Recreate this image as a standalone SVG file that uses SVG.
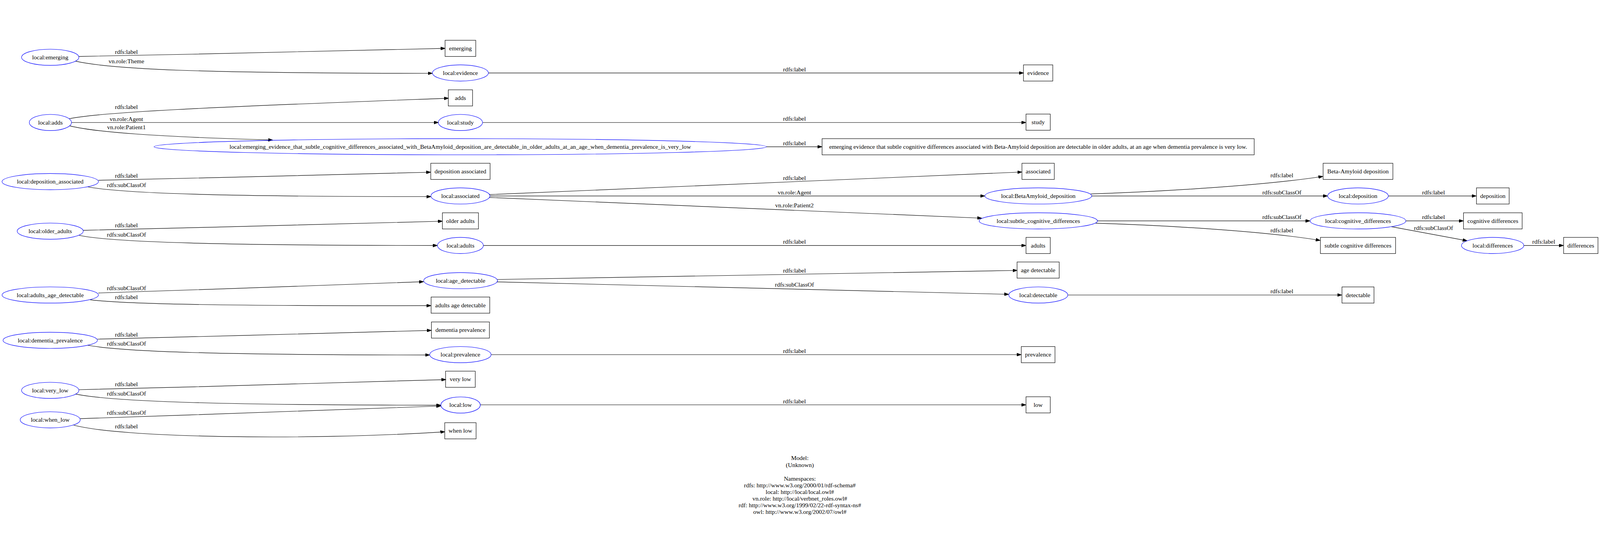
<svg xmlns="http://www.w3.org/2000/svg" width="4747" height="1429" viewBox="0 0 4747 1429">
<style>
svg{max-width:100vw;max-height:100vh}
text{font-family:"Liberation Serif","Times New Roman",serif;font-size:18px;fill:#000;text-anchor:middle}
.n ellipse{fill:none;stroke:#0000ff;stroke-width:1.33}
.n rect{fill:none;stroke:#000;stroke-width:1.33}
.e path{fill:none;stroke:#000;stroke-width:1.33;marker-end:url(#arr)}
</style>
<defs>
<marker id="arr" viewBox="0 0 13.33 9.33" refX="13.33" refY="4.67" markerWidth="13.33" markerHeight="9.33" markerUnits="userSpaceOnUse" orient="auto">
<path d="M0,0 L13.33,4.67 L0,9.33 z" fill="#000" stroke="#000" stroke-width="1"/>
</marker>
</defs>
<rect x="0" y="0" width="4747" height="1429" fill="#fff"/>

<g id="edges" class="e">
<path d="M234,54 C600,47 1000,38 1321,30"/>
<text x="375" y="46">rdfs:label</text>
<path d="M224,68 C330,92 600,104 1283,104"/>
<text x="375" y="74">vn.role:Theme</text>
<path d="M205,239 C290,220 600,205 1331,178"/>
<text x="375" y="210">rdfs:label</text>
<path d="M212,250 L1301,250"/>
<text x="375" y="246">vn.role:Agent</text>
<path d="M207,260 C280,278 450,292 809,302"/>
<text x="375" y="270">vn.role:Patient1</text>
<path d="M292,421.5 C600,415 1000,405 1278,397.5"/>
<text x="375" y="414">rdfs:label</text>
<path d="M260,441 C360,460 650,470 1279,470"/>
<text x="375" y="441">rdfs:subClassOf</text>
<path d="M247,570 C600,562 1000,551 1313,543"/>
<text x="375" y="561">rdfs:label</text>
<path d="M235,585 C330,605 650,615 1298,615"/>
<text x="375" y="589">rdfs:subClassOf</text>
<path d="M292,756 C600,747 1000,731 1257,722.5"/>
<text x="375" y="748">rdfs:subClassOf</text>
<path d="M267,776 C370,790 700,795 1279,793.5"/>
<text x="375" y="774">rdfs:label</text>
<path d="M289,893 C600,886 1000,874 1280,867"/>
<text x="375" y="886">rdfs:label</text>
<path d="M260,911 C360,930 650,940 1275,940"/>
<text x="375" y="912">rdfs:subClassOf</text>
<path d="M234,1043 C600,1035 1000,1022 1323,1013"/>
<text x="375" y="1033">rdfs:label</text>
<path d="M224,1056 C330,1078 650,1089 1308,1089"/>
<text x="375" y="1061">rdfs:subClassOf</text>
<path d="M238,1129 C600,1118 1000,1100 1308,1091.5"/>
<text x="375" y="1117">rdfs:subClassOf</text>
<path d="M218,1148 C350,1185 900,1195 1320,1168"/>
<text x="375" y="1158">rdfs:label</text>

<path d="M1449,103 L3037,103"/>
<text x="2357" y="98">rdfs:label</text>
<path d="M1432,250 L3044,250"/>
<text x="2357" y="244">rdfs:label</text>
<path d="M2274,322 L2439,322"/>
<text x="2357" y="317">rdfs:label</text>
<path d="M1451,464 L3032,397"/>
<text x="2357" y="421">rdfs:label</text>
<path d="M1454,468 L2922,468"/>
<text x="2357" y="464">vn.role:Agent</text>
<path d="M1451,472.5 L2913,534"/>
<text x="2357" y="502">vn.role:Patient2</text>
<path d="M1434,615 L3044,615"/>
<text x="2357" y="610">rdfs:label</text>
<path d="M1476,716 L3018,689"/>
<text x="2357" y="695">rdfs:label</text>
<path d="M1474,723 L2993,760"/>
<text x="2357" y="737">rdfs:subClassOf</text>
<path d="M1457,939 L3030,939"/>
<text x="2357" y="934">rdfs:label</text>
<path d="M1425,1088 L3044,1088"/>
<text x="2357" y="1084">rdfs:label</text>

<path d="M3236,462 C3450,455 3750,437 3925,410"/>
<text x="3803" y="413">rdfs:label</text>
<path d="M3239,468 L3939,468"/>
<text x="3803" y="464">rdfs:subClassOf</text>
<path d="M3256,542 L3887,542"/>
<text x="3803" y="537">rdfs:subClassOf</text>
<path d="M3251,549 C3450,555 3750,572 3917,600"/>
<text x="3803" y="576">rdfs:label</text>
<path d="M3168,762 L3981,762"/>
<text x="3803" y="757">rdfs:label</text>
<path d="M4119,468 L4380,468"/>
<text x="4253" y="464">rdfs:label</text>
<path d="M4171,542 L4342,542"/>
<text x="4253" y="537">rdfs:label</text>
<path d="M4127,559 L4353,601"/>
<text x="4253" y="569">rdfs:subClassOf</text>
<path d="M4521,615 L4639,615"/>
<text x="4580" y="610">rdfs:label</text>
</g>

<g id="node-local-emerging" class="n"><ellipse cx="149" cy="56.5" rx="85" ry="24"/><text x="149" y="62.5">local:emerging</text></g>
<g id="node-local-adds" class="n"><ellipse cx="149.5" cy="250" rx="62.5" ry="24"/><text x="149.5" y="256">local:adds</text></g>
<g id="node-local-deposition-associated" class="n"><ellipse cx="149" cy="425.5" rx="143" ry="24"/><text x="149" y="431.5">local:deposition_associated</text></g>
<g id="node-local-older-adults" class="n"><ellipse cx="149" cy="572.5" rx="98" ry="24"/><text x="149" y="578.5">local:older_adults</text></g>
<g id="node-local-adults-age-detectable" class="n"><ellipse cx="149" cy="762" rx="143" ry="24"/><text x="149" y="768">local:adults_age_detectable</text></g>
<g id="node-local-dementia-prevalence" class="n"><ellipse cx="149" cy="896.5" rx="140" ry="24"/><text x="149" y="902.5">local:dementia_prevalence</text></g>
<g id="node-local-very-low" class="n"><ellipse cx="149" cy="1045" rx="85" ry="24"/><text x="149" y="1051">local:very_low</text></g>
<g id="node-local-when-low" class="n"><ellipse cx="149" cy="1132.5" rx="89" ry="24"/><text x="149" y="1138.5">local:when_low</text></g>

<g id="node-emerging" class="n"><rect x="1320.5" y="6" width="91" height="48"/><text x="1366" y="36">emerging</text></g>
<g id="node-local-evidence" class="n"><ellipse cx="1366" cy="103" rx="83" ry="24"/><text x="1366" y="109">local:evidence</text></g>
<g id="node-adds" class="n"><rect x="1330" y="153" width="72" height="48"/><text x="1366" y="183">adds</text></g>
<g id="node-local-study" class="n"><ellipse cx="1366" cy="250" rx="65.5" ry="24"/><text x="1366" y="256">local:study</text></g>
<g id="node-local-long" class="n"><ellipse cx="1365.5" cy="322" rx="908.5" ry="24"/><text x="1365.5" y="328">local:emerging_evidence_that_subtle_cognitive_differences_associated_with_BetaAmyloid_deposition_are_detectable_in_older_adults_at_an_age_when_dementia_prevalence_is_very_low</text></g>
<g id="node-deposition-associated" class="n"><rect x="1278" y="371" width="176" height="48"/><text x="1366" y="401">deposition associated</text></g>
<g id="node-local-associated" class="n"><ellipse cx="1366" cy="468" rx="87.5" ry="24"/><text x="1366" y="474">local:associated</text></g>
<g id="node-older-adults" class="n"><rect x="1312.5" y="518" width="107" height="48"/><text x="1366" y="548">older adults</text></g>
<g id="node-local-adults" class="n"><ellipse cx="1366" cy="615" rx="68" ry="24"/><text x="1366" y="621">local:adults</text></g>
<g id="node-local-age-detectable" class="n"><ellipse cx="1366.5" cy="719.5" rx="109.5" ry="24"/><text x="1366.5" y="725.5">local:age_detectable</text></g>
<g id="node-adults-age-detectable" class="n"><rect x="1279" y="768" width="174" height="48"/><text x="1366" y="798">adults age detectable</text></g>
<g id="node-dementia-prevalence" class="n"><rect x="1280" y="842" width="172" height="48"/><text x="1366" y="872">dementia prevalence</text></g>
<g id="node-local-prevalence" class="n"><ellipse cx="1366" cy="939" rx="91" ry="24"/><text x="1366" y="945">local:prevalence</text></g>
<g id="node-very-low" class="n"><rect x="1322" y="988" width="88" height="48"/><text x="1366" y="1018">very low</text></g>
<g id="node-local-low" class="n"><ellipse cx="1366.5" cy="1088.5" rx="58.5" ry="24"/><text x="1366.5" y="1094.5">local:low</text></g>
<g id="node-when-low" class="n"><rect x="1319.5" y="1141" width="93" height="48"/><text x="1366" y="1171">when low</text></g>

<g id="node-evidence" class="n"><rect x="3036.5" y="79" width="87" height="48"/><text x="3080" y="109">evidence</text></g>
<g id="node-study" class="n"><rect x="3044" y="225" width="72" height="48"/><text x="3080" y="255">study</text></g>
<g id="node-long-label" class="n"><rect x="2439" y="298" width="1282" height="48"/><text x="3080" y="328">emerging evidence that subtle cognitive differences associated with Beta-Amyloid deposition are detectable in older adults, at an age when dementia prevalence is very low.</text></g>
<g id="node-associated" class="n"><rect x="3032" y="371" width="96" height="48"/><text x="3080" y="401">associated</text></g>
<g id="node-local-BetaAmyloid-deposition" class="n"><ellipse cx="3080.5" cy="468" rx="158.5" ry="24"/><text x="3080.5" y="474">local:BetaAmyloid_deposition</text></g>
<g id="node-local-subtle-cognitive-differences" class="n"><ellipse cx="3080.5" cy="542" rx="175.5" ry="24"/><text x="3080.5" y="548">local:subtle_cognitive_differences</text></g>
<g id="node-adults" class="n"><rect x="3044" y="591" width="72" height="48"/><text x="3080" y="621">adults</text></g>
<g id="node-age-detectable" class="n"><rect x="3017.5" y="664" width="125" height="48"/><text x="3080" y="694">age detectable</text></g>
<g id="node-local-detectable" class="n"><ellipse cx="3080.5" cy="762" rx="87.5" ry="24"/><text x="3080.5" y="768">local:detectable</text></g>
<g id="node-prevalence" class="n"><rect x="3030" y="915" width="100" height="48"/><text x="3080" y="945">prevalence</text></g>
<g id="node-low" class="n"><rect x="3044" y="1064" width="72" height="48"/><text x="3080" y="1094">low</text></g>

<g id="node-BetaAmyloid-deposition" class="n"><rect x="3925.5" y="371" width="207" height="48"/><text x="4029" y="401">Beta-Amyloid deposition</text></g>
<g id="node-local-deposition" class="n"><ellipse cx="4029" cy="468" rx="90" ry="24"/><text x="4029" y="474">local:deposition</text></g>
<g id="node-local-cognitive-differences" class="n"><ellipse cx="4029" cy="542" rx="142" ry="24"/><text x="4029" y="548">local:cognitive_differences</text></g>
<g id="node-subtle-cognitive-differences" class="n"><rect x="3917.5" y="591" width="223" height="48"/><text x="4029" y="621">subtle cognitive differences</text></g>
<g id="node-detectable" class="n"><rect x="3981.5" y="738" width="95" height="48"/><text x="4029" y="768">detectable</text></g>
<g id="node-deposition" class="n"><rect x="4380.5" y="444" width="97" height="48"/><text x="4429" y="474">deposition</text></g>
<g id="node-cognitive-differences" class="n"><rect x="4342" y="518" width="174" height="48"/><text x="4429" y="548">cognitive differences</text></g>
<g id="node-local-differences" class="n"><ellipse cx="4428.5" cy="615" rx="92.5" ry="24"/><text x="4428.5" y="621">local:differences</text></g>
<g id="node-differences" class="n"><rect x="4639" y="591" width="102" height="48"/><text x="4690" y="621">differences</text></g>

<g id="legend">
<text x="2373" y="1252">Model:</text>
<text x="2373" y="1272">(Unknown)</text>
<text x="2373" y="1313">Namespaces:</text>
<text x="2373" y="1333">rdfs: http://www.w3.org/2000/01/rdf-schema#</text>
<text x="2373" y="1352.5">local: http://local/local.owl#</text>
<text x="2373" y="1372">vn.role: http://local/verbnet_roles.owl#</text>
<text x="2373" y="1392">rdf: http://www.w3.org/1999/02/22-rdf-syntax-ns#</text>
<text x="2373" y="1412">owl: http://www.w3.org/2002/07/owl#</text>
</g>
</svg>
